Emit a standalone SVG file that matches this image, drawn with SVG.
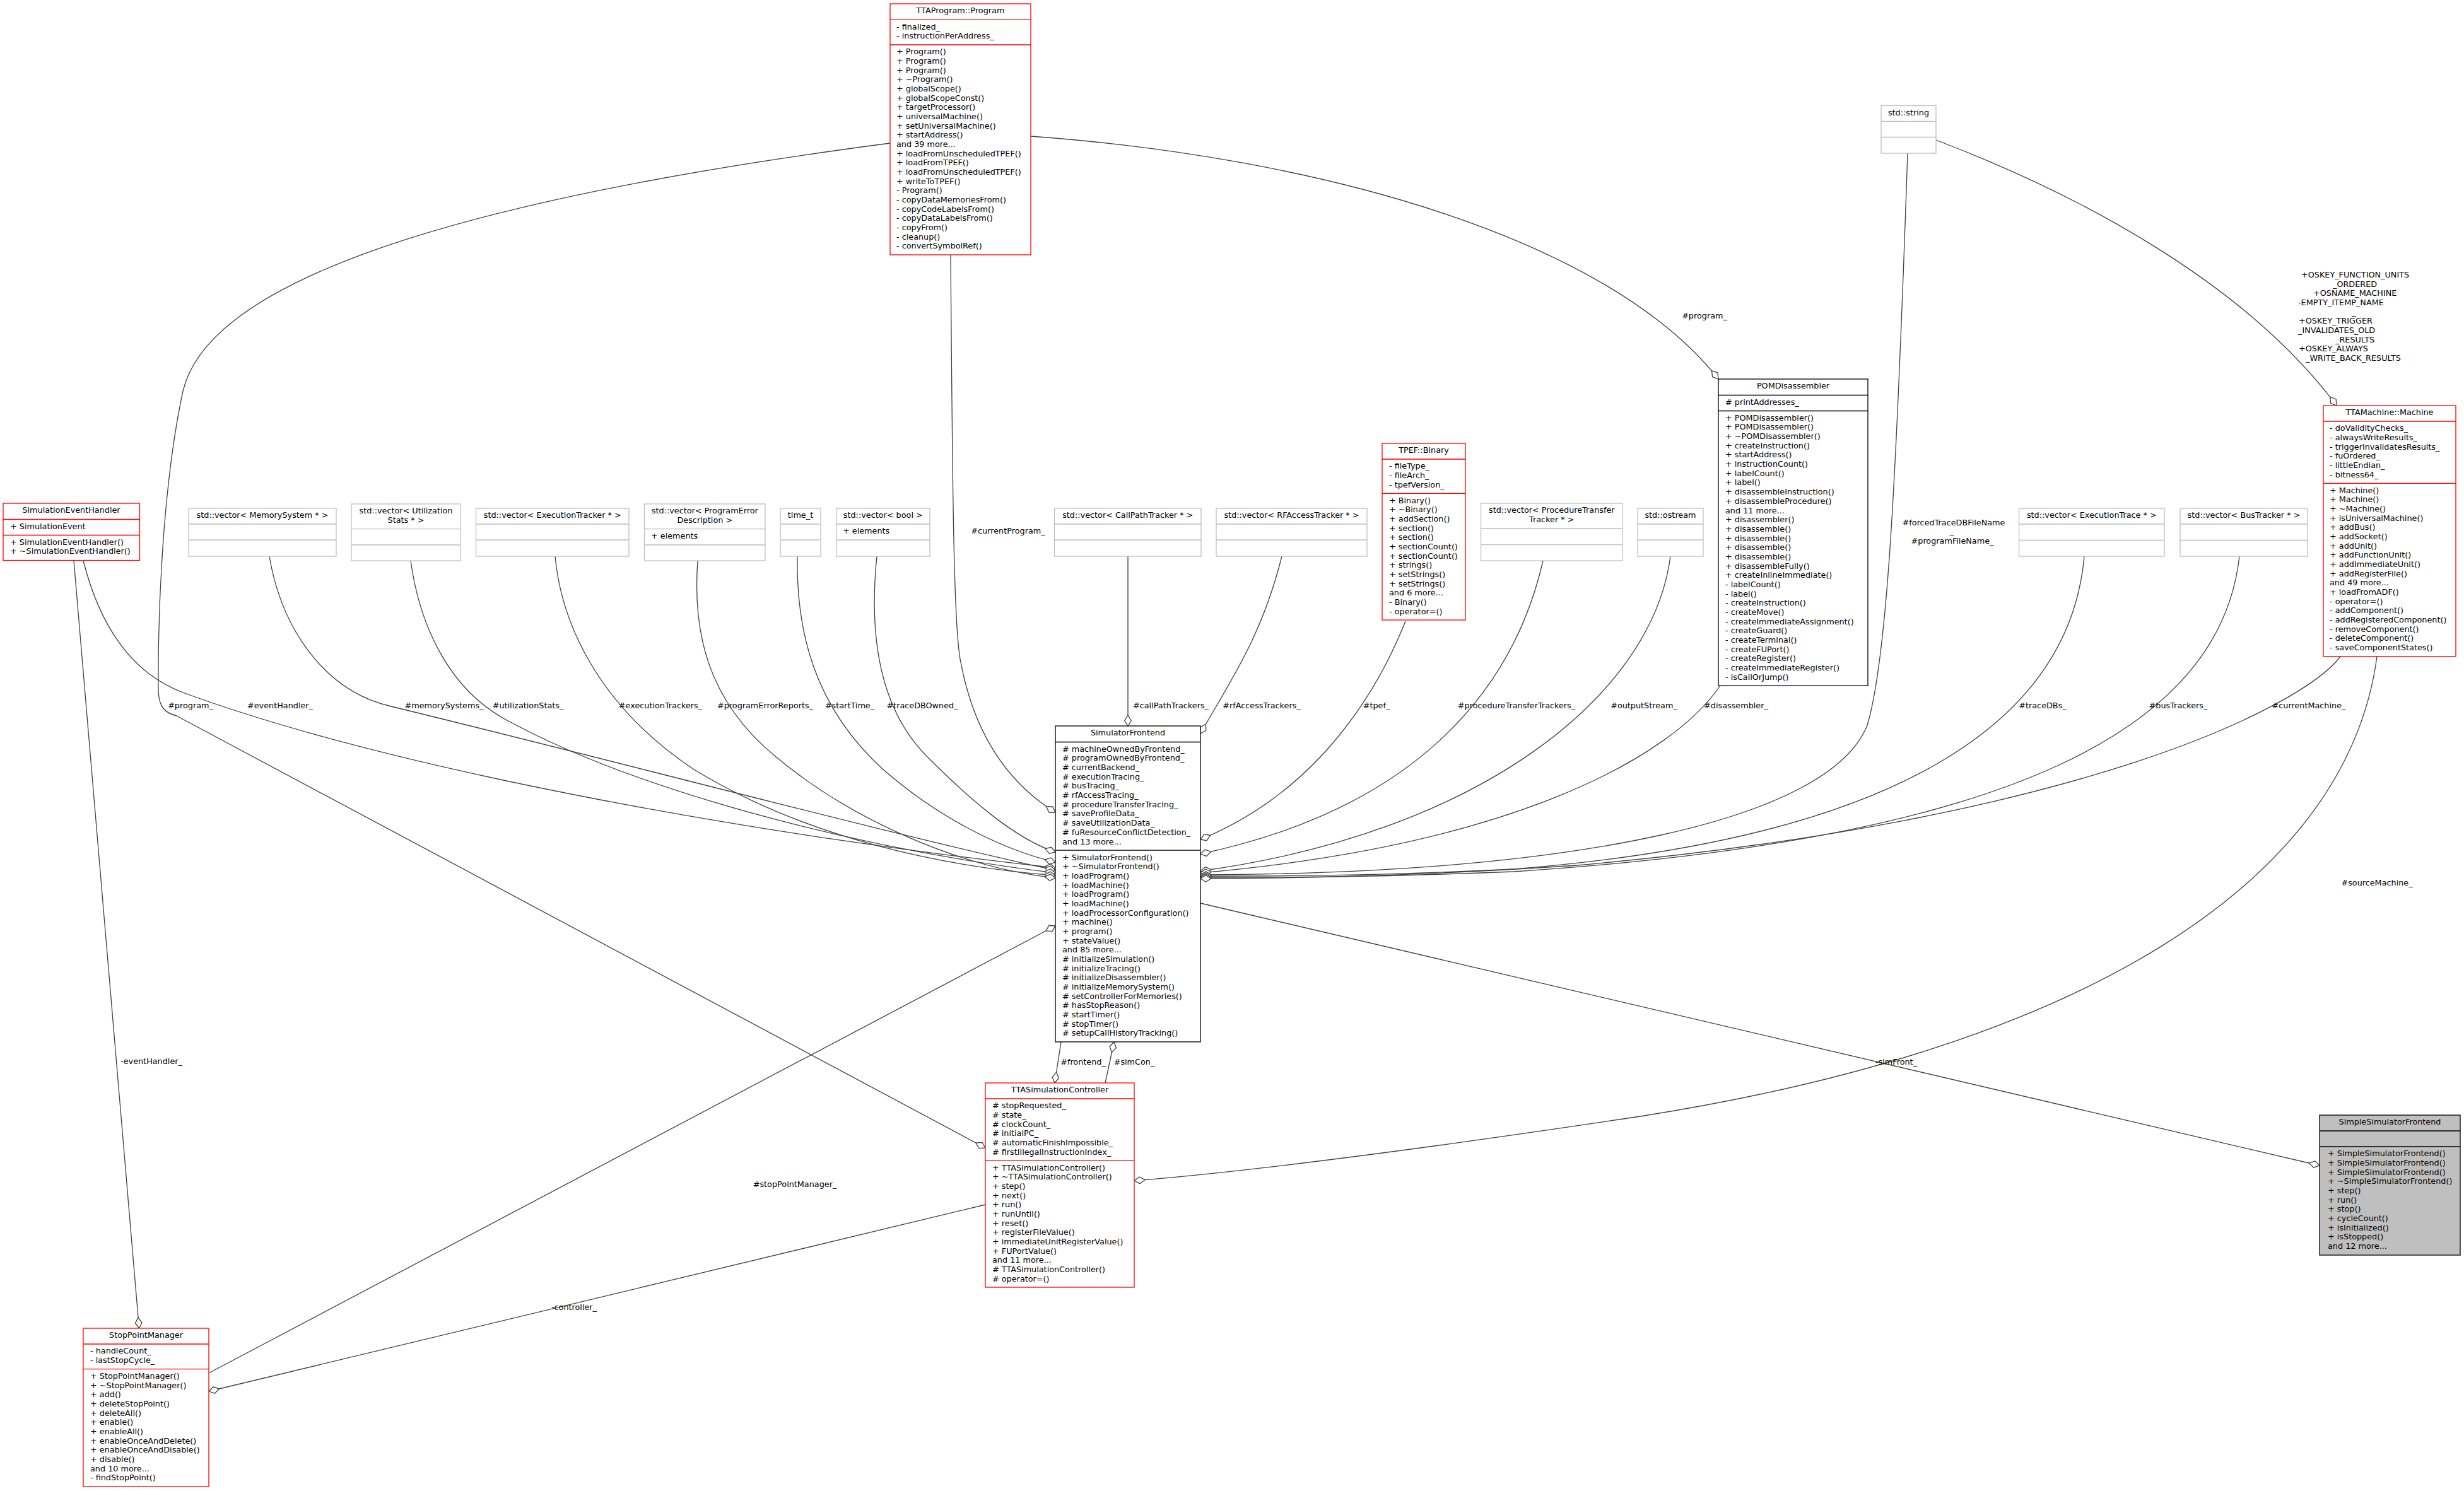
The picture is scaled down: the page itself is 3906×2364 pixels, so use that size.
<svg xmlns="http://www.w3.org/2000/svg" width="3906" height="2364" viewBox="0 0 3906 2364">
<style>
.t{font-family:"DejaVu Sans","Liberation Sans",sans-serif;font-size:12.8px;fill:#000}
.m{text-anchor:middle}
.r{fill:#fff;stroke:#ff0000;stroke-width:1.3}
.k{fill:#fff;stroke:#000;stroke-width:1.3}
.g{fill:#fff;stroke:#bfbfbf;stroke-width:1.3}
.s{fill:#bfbfbf;stroke:#000;stroke-width:1.3}
.rl{fill:none;stroke:#ff0000;stroke-width:1.3}
.kl{fill:none;stroke:#000;stroke-width:1.3}
.gl{fill:none;stroke:#bfbfbf;stroke-width:1.3}
.e{fill:none;stroke:#404040;stroke-width:1.3;marker-end:url(#d)}
</style>
<defs>
<marker id="d" markerUnits="userSpaceOnUse" markerWidth="20" markerHeight="14" viewBox="-18.5 -7 20 14" refX="0" refY="0" orient="auto">
<path d="M0,0 L-8.5,-5.3 L-17,0 L-8.5,5.3 Z" fill="#fff" stroke="#404040" stroke-width="1.3"/>
</marker>
</defs>
<rect x="0" y="0" width="3906" height="2364" fill="#fff"/>

<g id="connectors">
<path class="e" d="M1411,227 C700,320 330,450 290,620 C260,760 250,950 251,1095 C252,1120 260,1130 280,1135 L1562,1820"/>
<path class="e" d="M1507,404 C1510,800 1512,1000 1523,1050 C1540,1140 1580,1230 1673,1288"/>
<path class="e" d="M1634,216 C2100,250 2550,380 2724,601"/>
<path class="e" d="M117,889 C125,1000 170,1550 220.5,2106"/>
<path class="e" d="M132,889 C150,960 190,1060 290,1098 C650,1230 1250,1330 1673,1376"/>
<path class="e" d="M427,882 C445,990 510,1095 620,1120 C950,1200 1400,1320 1673,1380"/>
<path class="e" d="M651,889 C665,990 710,1090 800,1140 C1000,1250 1350,1345 1673,1384"/>
<path class="e" d="M880,882 C890,990 950,1120 1100,1220 C1280,1330 1500,1375 1673,1388"/>
<path class="e" d="M1106,889 C1098,1000 1120,1110 1230,1200 C1350,1300 1520,1375 1673,1392"/>
<path class="e" d="M1264,882 C1262,1000 1290,1120 1400,1220 C1480,1290 1580,1345 1673,1367"/>
<path class="e" d="M1390,882 C1378,1000 1390,1120 1470,1200 C1540,1270 1610,1330 1673,1351"/>
<path class="e" d="M1788,882 L1788,1151"/>
<path class="e" d="M2032,882 C2000,1010 1950,1080 1903,1163"/>
<path class="e" d="M2228,985 C2190,1080 2100,1250 1903,1331"/>
<path class="e" d="M2446,889 C2400,1090 2250,1280 1903,1354"/>
<path class="e" d="M2648,882 C2620,1100 2350,1320 1903,1381"/>
<path class="e" d="M2727,1087 C2650,1200 2400,1340 1903,1384"/>
<path class="e" d="M3024,243 C3005,800 2990,1050 2960,1150 C2900,1300 2500,1385 1903,1387"/>
<path class="e" d="M3304,882 C3280,1150 3000,1330 2400,1378 C2150,1390 2000,1389 1903,1389"/>
<path class="e" d="M3550,882 C3520,1150 3200,1330 2400,1382 C2150,1392 2000,1391 1903,1391"/>
<path class="e" d="M3710,1041 C3650,1120 3300,1300 2500,1372 C2200,1392 2000,1393 1903,1393"/>
<path class="e" d="M3069,222 C3300,310 3560,450 3704,643"/>
<path class="e" d="M3768,1041 C3720,1400 3300,1660 2600,1770 C2200,1830 1950,1860 1798,1872"/>
<path class="e" d="M1903,1432 L3677,1848"/>
<path class="e" d="M1682,1652 L1672,1717"/>
<path class="e" d="M1752,1717 L1766,1652"/>
<path class="e" d="M331,2177 L1673,1468"/>
<path class="e" d="M1562,1910 L331,2206"/>
<g class="t m">
<text x="302" y="1122.5">#program_</text>
<text x="444" y="1122.5">#eventHandler_</text>
<text x="704" y="1122.5">#memorySystems_</text>
<text x="837" y="1122.5">#utilizationStats_</text>
<text x="1047" y="1122.5">#executionTrackers_</text>
<text x="1213" y="1122.5">#programErrorReports_</text>
<text x="1347" y="1122.5">#startTime_</text>
<text x="1462" y="1122.5">#traceDBOwned_</text>
<text x="1598" y="846">#currentProgram_</text>
<text x="1856" y="1122.5">#callPathTrackers_</text>
<text x="2000" y="1122.5">#rfAccessTrackers_</text>
<text x="2182" y="1122.5">#tpef_</text>
<text x="2404" y="1122.5">#procedureTransferTrackers_</text>
<text x="2606" y="1122.5">#outputStream_</text>
<text x="2752" y="1122.5">#disassembler_</text>
<text x="3238" y="1122.5">#traceDBs_</text>
<text x="3453" y="1122.5">#busTrackers_</text>
<text x="3660" y="1122.5">#currentMachine_</text>
<text x="2702" y="505">#program_</text>
<text x="3097" y="833">#forcedTraceDBFileName</text>
<text x="3094" y="846">_</text>
<text x="3095" y="862">#programFileName_</text>
<text x="3768" y="1404">#sourceMachine_</text>
<text x="3006" y="1688">-simFront_</text>
<text x="1717" y="1688">#frontend_</text>
<text x="1798" y="1688">#simCon_</text>
<text x="1260" y="1882">#stopPointManager_</text>
<text x="910" y="2077">-controller_</text>
<text x="240" y="1687">-eventHandler_</text>
</g>
<g class="t">
<text x="3648" y="440">+OSKEY_FUNCTION_UNITS</text>
<text x="3698" y="454.7">_ORDERED</text>
<text x="3667" y="469.3">+OSNAME_MACHINE</text>
<text x="3643" y="484">-EMPTY_ITEMP_NAME</text>
<text x="3728" y="498.7">_</text>
<text x="3644" y="513.3">+OSKEY_TRIGGER</text>
<text x="3643" y="528">_INVALIDATES_OLD</text>
<text x="3702" y="542.7">_RESULTS</text>
<text x="3644" y="557.3">+OSKEY_ALWAYS</text>
<text x="3655" y="572">_WRITE_BACK_RESULTS</text>
</g>
</g>

<g id="TTAProgram_Program">
<rect class="r" x="1411" y="6" width="223" height="398"/>
<path class="rl" d="M1411,31.3H1634M1411,71H1634"/>
<text class="t m" x="1522.5" y="21.3">TTAProgram::Program</text>
<text class="t" x="1421" y="46.6"><tspan>- finalized_</tspan><tspan x="1421" dy="14.67">- instructionPerAddress_</tspan></text>
<text class="t" x="1421" y="86.3"><tspan>+ Program()</tspan><tspan x="1421" dy="14.67">+ Program()</tspan><tspan x="1421" dy="14.67">+ Program()</tspan><tspan x="1421" dy="14.67">+ ~Program()</tspan><tspan x="1421" dy="14.67">+ globalScope()</tspan><tspan x="1421" dy="14.67">+ globalScopeConst()</tspan><tspan x="1421" dy="14.67">+ targetProcessor()</tspan><tspan x="1421" dy="14.67">+ universalMachine()</tspan><tspan x="1421" dy="14.67">+ setUniversalMachine()</tspan><tspan x="1421" dy="14.67">+ startAddress()</tspan><tspan x="1421" dy="14.67">and 39 more...</tspan><tspan x="1421" dy="14.67">+ loadFromUnscheduledTPEF()</tspan><tspan x="1421" dy="14.67">+ loadFromTPEF()</tspan><tspan x="1421" dy="14.67">+ loadFromUnscheduledTPEF()</tspan><tspan x="1421" dy="14.67">+ writeToTPEF()</tspan><tspan x="1421" dy="14.67">- Program()</tspan><tspan x="1421" dy="14.67">- copyDataMemoriesFrom()</tspan><tspan x="1421" dy="14.67">- copyCodeLabelsFrom()</tspan><tspan x="1421" dy="14.67">- copyDataLabelsFrom()</tspan><tspan x="1421" dy="14.67">- copyFrom()</tspan><tspan x="1421" dy="14.67">- cleanup()</tspan><tspan x="1421" dy="14.67">- convertSymbolRef()</tspan></text>
</g>

<g id="SimulatorFrontend">
<rect class="k" x="1673" y="1151" width="230" height="500.9"/>
<path class="kl" d="M1673,1176.5H1903M1673,1348.2H1903"/>
<text class="t m" x="1788" y="1166.3">SimulatorFrontend</text>
<text class="t" x="1684" y="1191.8"><tspan># machineOwnedByFrontend_</tspan><tspan x="1684" dy="14.67"># programOwnedByFrontend_</tspan><tspan x="1684" dy="14.67"># currentBackend_</tspan><tspan x="1684" dy="14.67"># executionTracing_</tspan><tspan x="1684" dy="14.67"># busTracing_</tspan><tspan x="1684" dy="14.67"># rfAccessTracing_</tspan><tspan x="1684" dy="14.67"># procedureTransferTracing_</tspan><tspan x="1684" dy="14.67"># saveProfileData_</tspan><tspan x="1684" dy="14.67"># saveUtilizationData_</tspan><tspan x="1684" dy="14.67"># fuResourceConflictDetection_</tspan><tspan x="1684" dy="14.67">and 13 more...</tspan></text>
<text class="t" x="1684" y="1363.5"><tspan>+ SimulatorFrontend()</tspan><tspan x="1684" dy="14.67">+ ~SimulatorFrontend()</tspan><tspan x="1684" dy="14.67">+ loadProgram()</tspan><tspan x="1684" dy="14.67">+ loadMachine()</tspan><tspan x="1684" dy="14.67">+ loadProgram()</tspan><tspan x="1684" dy="14.67">+ loadMachine()</tspan><tspan x="1684" dy="14.67">+ loadProcessorConfiguration()</tspan><tspan x="1684" dy="14.67">+ machine()</tspan><tspan x="1684" dy="14.67">+ program()</tspan><tspan x="1684" dy="14.67">+ stateValue()</tspan><tspan x="1684" dy="14.67">and 85 more...</tspan><tspan x="1684" dy="14.67"># initializeSimulation()</tspan><tspan x="1684" dy="14.67"># initializeTracing()</tspan><tspan x="1684" dy="14.67"># initializeDisassembler()</tspan><tspan x="1684" dy="14.67"># initializeMemorySystem()</tspan><tspan x="1684" dy="14.67"># setControllerForMemories()</tspan><tspan x="1684" dy="14.67"># hasStopReason()</tspan><tspan x="1684" dy="14.67"># startTimer()</tspan><tspan x="1684" dy="14.67"># stopTimer()</tspan><tspan x="1684" dy="14.67"># setupCallHistoryTracking()</tspan></text>
</g>

<g id="POMDisassembler">
<rect class="k" x="2724" y="601" width="237" height="486.2"/>
<path class="kl" d="M2724,626.5H2961M2724,651.5H2961"/>
<text class="t m" x="2842.5" y="616.3">POMDisassembler</text>
<text class="t" x="2735" y="641.8"># printAddresses_</text>
<text class="t" x="2735" y="666.8"><tspan>+ POMDisassembler()</tspan><tspan x="2735" dy="14.67">+ POMDisassembler()</tspan><tspan x="2735" dy="14.67">+ ~POMDisassembler()</tspan><tspan x="2735" dy="14.67">+ createInstruction()</tspan><tspan x="2735" dy="14.67">+ startAddress()</tspan><tspan x="2735" dy="14.67">+ instructionCount()</tspan><tspan x="2735" dy="14.67">+ labelCount()</tspan><tspan x="2735" dy="14.67">+ label()</tspan><tspan x="2735" dy="14.67">+ disassembleInstruction()</tspan><tspan x="2735" dy="14.67">+ disassembleProcedure()</tspan><tspan x="2735" dy="14.67">and 11 more...</tspan><tspan x="2735" dy="14.67">+ disassembler()</tspan><tspan x="2735" dy="14.67">+ disassemble()</tspan><tspan x="2735" dy="14.67">+ disassemble()</tspan><tspan x="2735" dy="14.67">+ disassemble()</tspan><tspan x="2735" dy="14.67">+ disassemble()</tspan><tspan x="2735" dy="14.67">+ disassembleFully()</tspan><tspan x="2735" dy="14.67">+ createInlineImmediate()</tspan><tspan x="2735" dy="14.67">- labelCount()</tspan><tspan x="2735" dy="14.67">- label()</tspan><tspan x="2735" dy="14.67">- createInstruction()</tspan><tspan x="2735" dy="14.67">- createMove()</tspan><tspan x="2735" dy="14.67">- createImmediateAssignment()</tspan><tspan x="2735" dy="14.67">- createGuard()</tspan><tspan x="2735" dy="14.67">- createTerminal()</tspan><tspan x="2735" dy="14.67">- createFUPort()</tspan><tspan x="2735" dy="14.67">- createRegister()</tspan><tspan x="2735" dy="14.67">- createImmediateRegister()</tspan><tspan x="2735" dy="14.67">- isCallOrJump()</tspan></text>
</g>

<g id="TTAMachine_Machine">
<rect class="r" x="3683" y="643" width="210" height="397.7"/>
<path class="rl" d="M3683,668H3893M3683,766.3H3893"/>
<text class="t m" x="3788" y="658.3">TTAMachine::Machine</text>
<text class="t" x="3693" y="683.3"><tspan>- doValidityChecks_</tspan><tspan x="3693" dy="14.67">- alwaysWriteResults_</tspan><tspan x="3693" dy="14.67">- triggerInvalidatesResults_</tspan><tspan x="3693" dy="14.67">- fuOrdered_</tspan><tspan x="3693" dy="14.67">- littleEndian_</tspan><tspan x="3693" dy="14.67">- bitness64_</tspan></text>
<text class="t" x="3693" y="781.6"><tspan>+ Machine()</tspan><tspan x="3693" dy="14.67">+ Machine()</tspan><tspan x="3693" dy="14.67">+ ~Machine()</tspan><tspan x="3693" dy="14.67">+ isUniversalMachine()</tspan><tspan x="3693" dy="14.67">+ addBus()</tspan><tspan x="3693" dy="14.67">+ addSocket()</tspan><tspan x="3693" dy="14.67">+ addUnit()</tspan><tspan x="3693" dy="14.67">+ addFunctionUnit()</tspan><tspan x="3693" dy="14.67">+ addImmediateUnit()</tspan><tspan x="3693" dy="14.67">+ addRegisterFile()</tspan><tspan x="3693" dy="14.67">and 49 more...</tspan><tspan x="3693" dy="14.67">+ loadFromADF()</tspan><tspan x="3693" dy="14.67">- operator=()</tspan><tspan x="3693" dy="14.67">- addComponent()</tspan><tspan x="3693" dy="14.67">- addRegisteredComponent()</tspan><tspan x="3693" dy="14.67">- removeComponent()</tspan><tspan x="3693" dy="14.67">- deleteComponent()</tspan><tspan x="3693" dy="14.67">- saveComponentStates()</tspan></text>
</g>

<g id="TPEF_Binary">
<rect class="r" x="2191" y="703" width="132" height="280"/>
<path class="rl" d="M2191,728H2323M2191,782.3H2323"/>
<text class="t m" x="2257" y="718.3">TPEF::Binary</text>
<text class="t" x="2202" y="743.3"><tspan>- fileType_</tspan><tspan x="2202" dy="14.67">- fileArch_</tspan><tspan x="2202" dy="14.67">- tpefVersion_</tspan></text>
<text class="t" x="2202" y="797.6"><tspan>+ Binary()</tspan><tspan x="2202" dy="14.67">+ ~Binary()</tspan><tspan x="2202" dy="14.67">+ addSection()</tspan><tspan x="2202" dy="14.67">+ section()</tspan><tspan x="2202" dy="14.67">+ section()</tspan><tspan x="2202" dy="14.67">+ sectionCount()</tspan><tspan x="2202" dy="14.67">+ sectionCount()</tspan><tspan x="2202" dy="14.67">+ strings()</tspan><tspan x="2202" dy="14.67">+ setStrings()</tspan><tspan x="2202" dy="14.67">+ setStrings()</tspan><tspan x="2202" dy="14.67">and 6 more...</tspan><tspan x="2202" dy="14.67">- Binary()</tspan><tspan x="2202" dy="14.67">- operator=()</tspan></text>
</g>

<g id="TTASimulationController">
<rect class="r" x="1562" y="1717" width="236" height="324"/>
<path class="rl" d="M1562,1742H1798M1562,1840.3H1798"/>
<text class="t m" x="1680" y="1732.3">TTASimulationController</text>
<text class="t" x="1573" y="1757.3"><tspan># stopRequested_</tspan><tspan x="1573" dy="14.67"># state_</tspan><tspan x="1573" dy="14.67"># clockCount_</tspan><tspan x="1573" dy="14.67"># initialPC_</tspan><tspan x="1573" dy="14.67"># automaticFinishImpossible_</tspan><tspan x="1573" dy="14.67"># firstIllegalInstructionIndex_</tspan></text>
<text class="t" x="1573" y="1855.6"><tspan>+ TTASimulationController()</tspan><tspan x="1573" dy="14.67">+ ~TTASimulationController()</tspan><tspan x="1573" dy="14.67">+ step()</tspan><tspan x="1573" dy="14.67">+ next()</tspan><tspan x="1573" dy="14.67">+ run()</tspan><tspan x="1573" dy="14.67">+ runUntil()</tspan><tspan x="1573" dy="14.67">+ reset()</tspan><tspan x="1573" dy="14.67">+ registerFileValue()</tspan><tspan x="1573" dy="14.67">+ immediateUnitRegisterValue()</tspan><tspan x="1573" dy="14.67">+ FUPortValue()</tspan><tspan x="1573" dy="14.67">and 11 more...</tspan><tspan x="1573" dy="14.67"># TTASimulationController()</tspan><tspan x="1573" dy="14.67"># operator=()</tspan></text>
</g>

<g id="StopPointManager">
<rect class="r" x="132" y="2106" width="199" height="251"/>
<path class="rl" d="M132,2131H331M132,2170.6H331"/>
<text class="t m" x="231.5" y="2121.3">StopPointManager</text>
<text class="t" x="143" y="2146.3"><tspan>- handleCount_</tspan><tspan x="143" dy="14.67">- lastStopCycle_</tspan></text>
<text class="t" x="143" y="2185.9"><tspan>+ StopPointManager()</tspan><tspan x="143" dy="14.67">+ ~StopPointManager()</tspan><tspan x="143" dy="14.67">+ add()</tspan><tspan x="143" dy="14.67">+ deleteStopPoint()</tspan><tspan x="143" dy="14.67">+ deleteAll()</tspan><tspan x="143" dy="14.67">+ enable()</tspan><tspan x="143" dy="14.67">+ enableAll()</tspan><tspan x="143" dy="14.67">+ enableOnceAndDelete()</tspan><tspan x="143" dy="14.67">+ enableOnceAndDisable()</tspan><tspan x="143" dy="14.67">+ disable()</tspan><tspan x="143" dy="14.67">and 10 more...</tspan><tspan x="143" dy="14.67">- findStopPoint()</tspan></text>
</g>

<g id="SimulationEventHandler">
<rect class="r" x="5" y="798" width="216.5" height="90.5"/>
<path class="rl" d="M5,823.5H221.5M5,848.5H221.5"/>
<text class="t m" x="113" y="813.3">SimulationEventHandler</text>
<text class="t" x="16" y="838.8">+ SimulationEvent</text>
<text class="t" x="16" y="863.8"><tspan>+ SimulationEventHandler()</tspan><tspan x="16" dy="14.67">+ ~SimulationEventHandler()</tspan></text>
</g>

<g id="SimpleSimulatorFrontend">
<rect class="s" x="3677" y="1768" width="223" height="222"/>
<path class="kl" d="M3677,1793H3900M3677,1818H3900"/>
<text class="t m" x="3788.5" y="1783.3">SimpleSimulatorFrontend</text>
<text class="t" x="3690" y="1833.3"><tspan>+ SimpleSimulatorFrontend()</tspan><tspan x="3690" dy="14.67">+ SimpleSimulatorFrontend()</tspan><tspan x="3690" dy="14.67">+ SimpleSimulatorFrontend()</tspan><tspan x="3690" dy="14.67">+ ~SimpleSimulatorFrontend()</tspan><tspan x="3690" dy="14.67">+ step()</tspan><tspan x="3690" dy="14.67">+ run()</tspan><tspan x="3690" dy="14.67">+ stop()</tspan><tspan x="3690" dy="14.67">+ cycleCount()</tspan><tspan x="3690" dy="14.67">+ isInitialized()</tspan><tspan x="3690" dy="14.67">+ isStopped()</tspan><tspan x="3690" dy="14.67">and 12 more...</tspan></text>
</g>

<g id="vec_MemorySystem">
<rect class="g" x="299" y="806" width="234" height="76"/>
<path class="gl" d="M299,831H533M299,856H533"/>
<text class="t m" x="416" y="821.3">std::vector&lt; MemorySystem * &gt;</text>
</g>
<g id="vec_UtilizationStats">
<rect class="g" x="557" y="799" width="173" height="90"/>
<path class="gl" d="M557,838.7H730M557,864H730"/>
<text class="t m" x="643.5" y="814.3"><tspan>std::vector&lt; Utilization</tspan><tspan x="643.5" dy="14.67">Stats * &gt;</tspan></text>
</g>
<g id="vec_ExecutionTracker">
<rect class="g" x="754.5" y="806" width="242.5" height="76"/>
<path class="gl" d="M754.5,831H997M754.5,856H997"/>
<text class="t m" x="875.75" y="821.3">std::vector&lt; ExecutionTracker * &gt;</text>
</g>
<g id="vec_ProgramErrorDescription">
<rect class="g" x="1021.6" y="799" width="191.4" height="90"/>
<path class="gl" d="M1021.6,838.7H1213M1021.6,864H1213"/>
<text class="t m" x="1117.3" y="814.3"><tspan>std::vector&lt; ProgramError</tspan><tspan x="1117.3" dy="14.67">Description &gt;</tspan></text>
<text class="t" x="1032" y="854">+ elements</text>
</g>
<g id="time_t">
<rect class="g" x="1237" y="806" width="64" height="76"/>
<path class="gl" d="M1237,831H1301M1237,856H1301"/>
<text class="t m" x="1269" y="821.3">time_t</text>
</g>
<g id="vec_bool">
<rect class="g" x="1325.6" y="806" width="148.4" height="76"/>
<path class="gl" d="M1325.6,831H1474M1325.6,856H1474"/>
<text class="t m" x="1399.8" y="821.3">std::vector&lt; bool &gt;</text>
<text class="t" x="1336" y="846.3">+ elements</text>
</g>
<g id="vec_CallPathTracker">
<rect class="g" x="1671.5" y="806" width="232.5" height="76"/>
<path class="gl" d="M1671.5,831H1904M1671.5,856H1904"/>
<text class="t m" x="1787.75" y="821.3">std::vector&lt; CallPathTracker * &gt;</text>
</g>
<g id="vec_RFAccessTracker">
<rect class="g" x="1928" y="806" width="239" height="76"/>
<path class="gl" d="M1928,831H2167M1928,856H2167"/>
<text class="t m" x="2047.5" y="821.3">std::vector&lt; RFAccessTracker * &gt;</text>
</g>
<g id="vec_ProcedureTransferTracker">
<rect class="g" x="2347.6" y="798" width="224.4" height="91"/>
<path class="gl" d="M2347.6,838H2572M2347.6,863.7H2572"/>
<text class="t m" x="2459.8" y="813.3"><tspan>std::vector&lt; ProcedureTransfer</tspan><tspan x="2459.8" dy="14.67">Tracker * &gt;</tspan></text>
</g>
<g id="std_ostream">
<rect class="g" x="2596" y="806" width="104" height="76"/>
<path class="gl" d="M2596,831H2700M2596,856H2700"/>
<text class="t m" x="2648" y="821.3">std::ostream</text>
</g>
<g id="vec_ExecutionTrace">
<rect class="g" x="3200.6" y="806" width="230.4" height="76"/>
<path class="gl" d="M3200.6,831H3431M3200.6,856.5H3431"/>
<text class="t m" x="3315.8" y="821.3">std::vector&lt; ExecutionTrace * &gt;</text>
</g>
<g id="vec_BusTracker">
<rect class="g" x="3456" y="806" width="202" height="76"/>
<path class="gl" d="M3456,831H3658M3456,856.5H3658"/>
<text class="t m" x="3557" y="821.3">std::vector&lt; BusTracker * &gt;</text>
</g>
<g id="std_string">
<rect class="g" x="2982" y="167.5" width="87" height="75.5"/>
<path class="gl" d="M2982,192.5H3069M2982,217.5H3069"/>
<text class="t m" x="3025.5" y="182.8">std::string</text>
</g>
</svg>
